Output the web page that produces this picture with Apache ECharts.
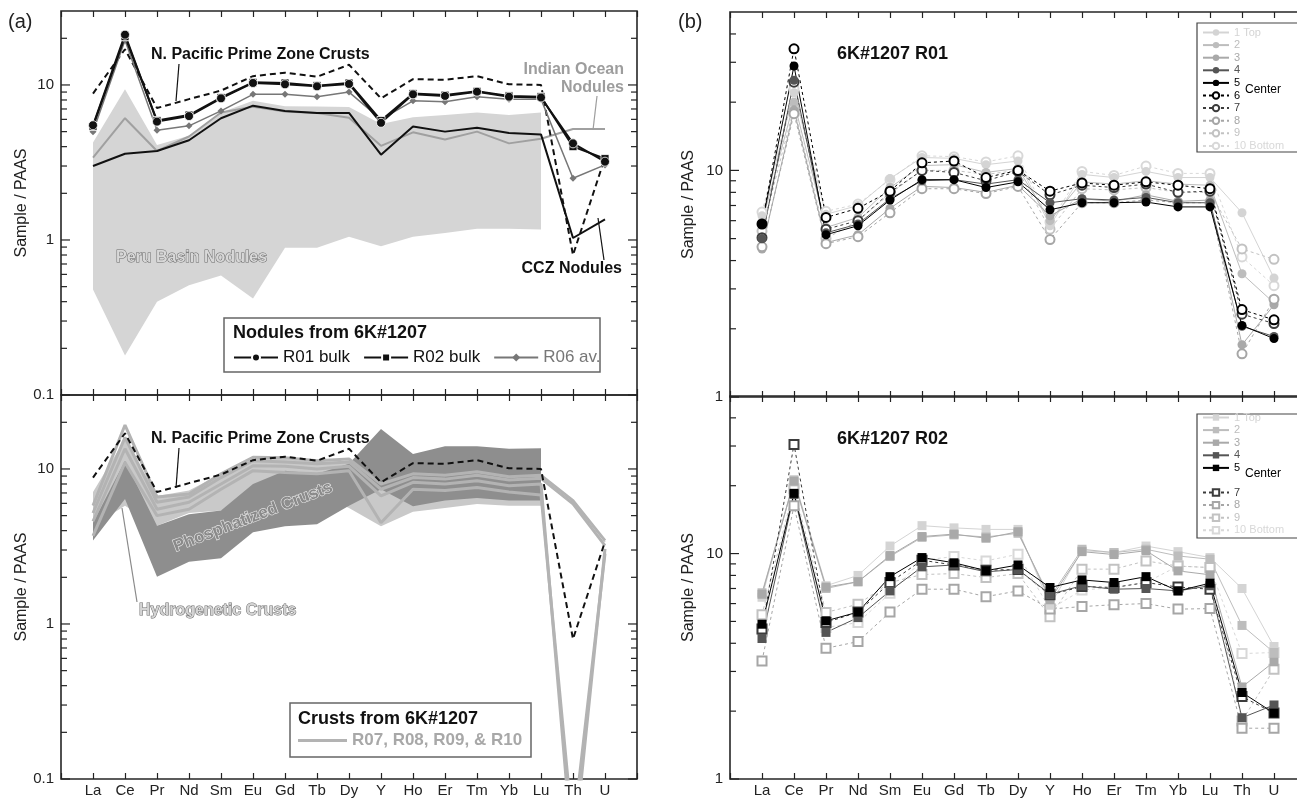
<!DOCTYPE html>
<html><head><meta charset="utf-8">
<script src="https://cdn.jsdelivr.net/npm/echarts@6/dist/echarts.min.js"></script>
<style>html,body{margin:0;padding:0;background:#fff}#c{width:1297px;height:798px}</style>
</head><body><div id="c"></div>
<script>
// ---------- data ----------
const elements = ['La','Ce','Pr','Nd','Sm','Eu','Gd','Tb','Dy','Y','Ho','Er','Tm','Yb','Lu','Th','U'];
const yTicksLeft = [0.1,0.2,0.3,0.4,0.5,0.6,0.7,0.8,0.9,1,2,3,4,5,6,7,8,9,10,20];
const yTicksRight = [1,2,3,4,5,6,7,8,9,10,20,30,40];
const yLabelsShown = [0.1, 1, 10];

// (a) top: nodules
const npacCrusts   = [8.8, 17.0, 7.1, 8.1, 9.2, 11.4, 12.0, 11.3, 13.5, 8.2, 10.9, 10.8, 11.4, 10.1, 10.0, 0.8, 3.4];
const r01Bulk      = [5.5, 21.1, 5.8, 6.3, 8.2, 10.3, 10.1, 9.8, 10.15, 5.7, 8.7, 8.5, 9.05, 8.4, 8.3, 4.2, 3.2];
const r02Bulk      = [5.4, 20.5, 5.9, 6.4, 8.3, 10.4, 10.3, 9.9, 10.3, 5.9, 8.8, 8.6, 9.1, 8.5, 8.4, 4.0, 3.35];
const r06Av        = [5.0, 19.4, 5.1, 5.45, 6.8, 8.7, 8.7, 8.4, 9.0, 6.0, 7.9, 7.8, 8.4, 8.1, 8.1, 2.5, 3.05];
const cczNodules   = [3.0, 3.6, 3.75, 4.4, 6.1, 7.35, 6.8, 6.6, 6.6, 3.55, 5.4, 5.0, 5.3, 4.9, 4.8, 1.03, 1.36];
const indianNodules= [3.4, 6.1, 3.75, 4.65, 6.65, 7.24, 6.75, 6.6, 6.15, 4.05, 4.95, 4.45, 5.0, 4.2, 4.5, 5.2, 5.2];
const peruUpper    = [4.25, 9.4, 4.1, 4.7, 6.65, 7.9, 7.3, 7.25, 7.2, 5.6, 6.2, 6.4, 6.65, 6.4, 6.65];
const peruLower    = [0.48, 0.18, 0.40, 0.51, 0.59, 0.42, 0.89, 0.89, 1.05, 0.91, 1.05, 1.11, 1.18, 1.18, 1.17];

// (a) bottom: crusts
const r07 = [5.8, 19.2, 6.6, 6.9, 9.3, 11.9, 11.8, 11.3, 11.6, 8.0, 9.3, 9.1, 9.6, 8.9, 9.1, 6.25, 3.45];
const r08 = [5.2, 16.0, 6.1, 6.6, 8.8, 11.3, 11.1, 10.8, 11.1, 7.4, 8.8, 8.6, 9.1, 8.5, 8.7, 5.95, 3.2];
const r09 = [4.6, 13.5, 5.5, 6.1, 8.0, 10.5, 10.4, 10.0, 10.4, 6.7, 8.2, 8.0, 8.4, 7.8, 8.0, 0.03, 3.05];
const r10 = [3.7, 11.0, 5.0, 5.5, 7.4, 9.75, 9.5, 9.3, 9.75, 4.5, 7.4, 7.25, 7.6, 7.1, 6.8, 0.045, 2.85];
const phosUpper  = [4.5, 11.3, 4.3, 5.1, 5.4, 8.0, 9.75, 9.3, 10.8, 18.1, 12.5, 14.0, 14.0, 13.5, 13.6];
const phosLower  = [3.45, 6.4, 2.02, 2.52, 2.65, 3.9, 4.27, 4.4, 5.8, 7.4, 5.75, 6.25, 6.5, 6.25, 6.25];
const hydroUpper = [7.1, 15.6, 6.7, 7.25, 9.3, 11.6, 11.6, 11.1, 11.3, 7.8, 9.5, 9.5, 9.75, 9.3, 9.3];
const hydroLower = [4.3, 5.8, 4.3, 5.2, 5.4, 6.4, 7.0, 7.0, 5.6, 4.27, 5.3, 5.6, 5.95, 5.8, 5.8];

// (b) top: 6K#1207 R01 profile
const r01Names = ['1 Top','2','3','4','5 Center','6','7','8','9','10 Bottom'];
const r01s1  = [6.3, 22.0, 6.4, 7.0, 9.2, 11.4, 11.3, 10.6, 11.0, 5.7, 9.6, 9.3, 9.9, 9.3, 9.3, 6.5, 3.35];
const r01s2  = [5.9, 20.0, 5.6, 6.2, 8.4, 10.5, 10.6, 9.8, 10.2, 6.0, 8.9, 8.7, 9.0, 8.7, 8.6, 3.5, 2.6];
const r01s3  = [4.5, 18.5, 4.8, 5.2, 6.8, 8.5, 8.4, 8.0, 8.6, 6.3, 7.5, 7.3, 7.8, 7.3, 7.4, 1.7, 2.55];
const r01s4  = [5.0, 25.0, 5.3, 5.8, 7.5, 9.0, 9.1, 8.7, 9.1, 7.2, 7.5, 7.4, 7.6, 7.2, 7.2, 2.05, 1.85];
const r01s5  = [5.8, 28.9, 5.2, 5.7, 7.4, 9.1, 9.1, 8.4, 8.9, 6.7, 7.2, 7.2, 7.25, 6.9, 6.9, 2.07, 1.81];
const r01s6  = [5.8, 34.4, 6.2, 6.8, 8.1, 10.8, 11.0, 9.3, 10.0, 8.1, 8.8, 8.6, 8.9, 8.6, 8.3, 2.43, 2.19];
const r01s7  = [5.05, 24.5, 5.5, 6.0, 8.0, 10.0, 9.8, 9.0, 9.9, 7.8, 8.6, 8.4, 8.7, 8.0, 8.1, 2.32, 2.11];
const r01s8  = [4.6, 17.8, 4.75, 5.1, 6.5, 8.3, 8.3, 7.9, 8.5, 4.95, 7.2, 7.2, 7.4, 7.2, 7.2, 1.55, 2.7];
const r01s9  = [5.4, 18.9, 5.0, 6.0, 7.9, 10.0, 10.0, 9.6, 10.0, 5.5, 8.3, 8.2, 8.4, 8.0, 8.0, 4.5, 4.05];
const r01s10 = [6.55, 22.9, 6.6, 7.1, 9.1, 11.6, 11.5, 10.9, 11.6, 5.9, 9.9, 9.5, 10.45, 9.7, 9.7, 4.15, 3.1];

// (b) bottom: 6K#1207 R02 profile
const r02Names = ['1 Top','2','3','4','5 Center','7','8','9','10 Bottom'];
const r02s1  = [6.4, 21.3, 7.2, 8.0, 10.8, 13.3, 13.0, 12.8, 12.8, 5.9, 10.3, 10.1, 10.8, 10.2, 9.6, 7.0, 3.87];
const r02s2  = [6.7, 20.8, 7.0, 7.5, 9.7, 11.8, 12.1, 11.85, 12.3, 6.4, 10.45, 10.1, 10.45, 9.76, 9.44, 4.8, 3.64];
const r02s3  = [6.6, 21.0, 7.1, 7.5, 9.8, 11.9, 12.2, 11.7, 12.5, 6.24, 10.2, 9.9, 10.3, 8.38, 8.05, 2.56, 3.31];
const r02s4  = [4.2, 18.3, 4.47, 5.2, 6.83, 8.73, 8.9, 8.3, 8.5, 6.6, 7.2, 6.95, 7.0, 6.83, 7.2, 1.87, 2.13];
const r02s5  = [4.86, 18.5, 5.03, 5.5, 7.9, 9.6, 9.1, 8.4, 8.9, 7.07, 7.64, 7.44, 7.9, 6.83, 7.39, 2.42, 1.96];
const r02s7  = [4.63, 30.5, 4.94, 5.5, 7.44, 9.34, 8.9, 8.44, 8.5, 6.56, 7.14, 7.07, 7.44, 7.1, 6.95, 2.32, 1.96];
const r02s8  = [3.34, 16.3, 3.8, 4.07, 5.5, 6.95, 6.95, 6.44, 6.83, 5.67, 5.82, 5.93, 6.0, 5.67, 5.7, 1.68, 1.68];
const r02s9  = [5.35, 19.4, 5.48, 5.96, 7.44, 8.07, 8.15, 7.83, 8.15, 5.24, 8.53, 8.53, 9.28, 8.8, 8.67, 1.81, 3.07];
const r02s10 = [4.63, 19.0, 4.7, 4.94, 6.67, 9.34, 9.7, 9.28, 9.93, 5.67, 6.89, 7.07, 7.44, 8.8, 8.67, 3.6, 3.64];

// ---------- styles ----------
const FONT = "'Liberation Sans', Arial, Helvetica, sans-serif";
const profColors = ['#d4d4d4','#bdbdbd','#a9a9a9','#555555','#000000','#000000','#3c3c3c','#a6a6a6','#c2c2c2','#d8d8d8'];
const profDashed = [false,false,false,false,false,true,true,true,true,true];
const r02Colors = ['#d4d4d4','#bdbdbd','#a9a9a9','#555555','#000000','#3c3c3c','#a6a6a6','#c2c2c2','#d8d8d8'];
const r02Dashed = [false,false,false,false,false,true,true,true,true];

const chart = echarts.init(document.getElementById('c'), null, {width:1297, height:798});

const gridDefs = [
  {left:61, top:11, width:576, height:384},
  {left:61, top:395, width:576, height:384},
  {left:730, top:12, width:576, height:385},
  {left:730, top:396, width:576, height:383}
];
const grid = gridDefs.map(g => Object.assign({show:true, borderColor:'#262626', borderWidth:1.6,
  backgroundColor:'transparent', containLabel:false, outerBoundsMode:'none'}, g));

const xAxis = [];
gridDefs.forEach((g, gi) => {
  const showLab = (gi === 1 || gi === 3);
  ['bottom','top'].forEach(pos => {
    xAxis.push({type:'value', gridIndex:gi, position:pos, min:0, max:18, interval:1,
      axisLine:{show:false}, splitLine:{show:false},
      axisTick:{show:true, inside:true, length:6, lineStyle:{color:'#222', width:1.2}},
      axisLabel:{show: showLab && pos === 'bottom', color:'#222', fontSize:15, fontFamily:FONT, margin:4,
        formatter: v => elements[v - 1] || ''}});
  });
});

const yRanges = [[0.1,30],[0.1,30],[1,50],[1,50]];
const yAxis = yRanges.map((r, gi) => ({type:'log', logBase:10, gridIndex:gi, min:r[0], max:r[1],
  axisLine:{show:false}, splitLine:{show:false}, axisTick:{show:false},
  axisLabel:{color:'#222', fontSize:15, fontFamily:FONT, margin:7,
    formatter: v => yLabelsShown.some(t => Math.abs(t - v) < 1e-9) ? String(v) : ''},
  name:'Sample / PAAS', nameLocation:'middle', nameGap: gi < 2 ? 30 : 33,
  nameTextStyle:{fontSize:16, color:'#222', fontFamily:FONT}}));

const pts = vals => vals.map((v, i) => [i + 1, v]);
const line = (gi, name, vals, o) => Object.assign({type:'line', name, xAxisIndex:2*gi, yAxisIndex:gi,
  data: pts(vals), symbol:'none', animation:false, z:3, clip:true}, o);

function band(gi, lower, upper, color, z) {
  return {type:'custom', xAxisIndex:2*gi, yAxisIndex:gi, silent:true, z:z, animation:false,
    data: lower.map((l, i) => [i + 1, l, upper[i]]),
    renderItem(params, api) {
      if (params.dataIndex !== 0) return null;
      const top = upper.map((u, i) => api.coord([i + 1, u]));
      const bot = lower.map((l, i) => api.coord([i + 1, l])).reverse();
      return {type:'polygon', shape:{points: top.concat(bot)}, style:{fill: color}};
    }};
}

function ticks(gi, vals) {
  return {type:'custom', xAxisIndex:2*gi, yAxisIndex:gi, silent:true, z:10, animation:false, clip:false,
    data: vals.map(v => [0, v]),
    renderItem(params, api) {
      const v = api.value(1);
      const pL = api.coord([0, v]), pR = api.coord([18, v]);
      const lg = Math.log10(v);
      const len = Math.abs(lg - Math.round(lg)) < 1e-6 ? 9 : 6;
      const st = {stroke:'#222', lineWidth:1.2};
      return {type:'group', children:[
        {type:'line', shape:{x1:pL[0], y1:pL[1], x2:pL[0] + len, y2:pL[1]}, style:st},
        {type:'line', shape:{x1:pR[0] - len, y1:pR[1], x2:pR[0], y2:pR[1]}, style:st}]};
    }};
}

const series = [];
// grid 0
series.push(band(0, peruLower, peruUpper, '#d5d5d5', 1));
series.push(line(0, 'Indian Ocean Nodules', indianNodules, {lineStyle:{color:'#a0a0a0', width:2}}));
series.push(line(0, 'CCZ Nodules', cczNodules, {lineStyle:{color:'#111', width:2}}));
series.push(line(0, 'N. Pacific Prime Zone Crusts', npacCrusts, {lineStyle:{color:'#111', width:2, type:[6,4]}}));
series.push(line(0, 'R06 av.', r06Av, {symbol:'diamond', symbolSize:7, lineStyle:{color:'#777', width:1.5},
  itemStyle:{color:'#777'}}));
series.push(line(0, 'R02 bulk', r02Bulk, {symbol:'rect', symbolSize:8, lineStyle:{color:'#111', width:2},
  itemStyle:{color:'#111', borderColor:'#fff', borderWidth:0.8}}));
series.push(line(0, 'R01 bulk', r01Bulk, {symbol:'circle', symbolSize:9, lineStyle:{color:'#111', width:2},
  itemStyle:{color:'#111', borderColor:'#fff', borderWidth:0.8}}));
// grid 1
series.push(band(1, hydroLower, hydroUpper, '#c9c9c9', 1));
series.push(band(1, phosLower, phosUpper, '#8e8e8e', 2));
[r10, r09, r08, r07].forEach(d => series.push(line(1, 'R07, R08, R09, & R10', d,
  {lineStyle:{color:'#b3b3b3', width:3}, itemStyle:{color:'#b3b3b3'}})));
series.push(line(1, 'N. Pacific (crusts)', npacCrusts, {lineStyle:{color:'#111', width:2, type:[6,4]}}));
// grid 2
const r01Data = [r01s1, r01s2, r01s3, r01s4, r01s5, r01s6, r01s7, r01s8, r01s9, r01s10];
const r01Order = [9, 8, 0, 1, 2, 7, 6, 3, 5, 4];
r01Order.forEach(k => {
  const c = profColors[k], d = profDashed[k];
  series.push(line(2, 'R01-' + r01Names[k], r01Data[k], {
    symbol: d ? 'emptyCircle' : 'circle', symbolSize:9,
    lineStyle:{color:c, width:1, type: d ? [3,3] : 'solid'},
    itemStyle: d ? {color:c, borderColor:c, borderWidth:1.3} : {color:c, borderWidth:0}}));
});
// grid 3
const r02Data = [r02s1, r02s2, r02s3, r02s4, r02s5, r02s7, r02s8, r02s9, r02s10];
const r02Order = [8, 7, 6, 0, 1, 2, 5, 3, 4];
r02Order.forEach(k => {
  const c = r02Colors[k], d = r02Dashed[k];
  series.push(line(3, 'R02-' + r02Names[k], r02Data[k], {
    symbol: d ? 'emptyRect' : 'rect', symbolSize:9,
    lineStyle:{color:c, width:1, type: d ? [3,3] : 'solid'},
    itemStyle: d ? {color:c, borderColor:c, borderWidth:1.3} : {color:c, borderWidth:0}}));
});
series.push(ticks(0, yTicksLeft), ticks(1, yTicksLeft), ticks(2, yTicksRight), ticks(3, yTicksRight));

const stripName = n => n.replace(/^R0\d-/, '').replace(' Center', '');
const profLegend = (names, prefix, colors, top) => ({
  left:1202, top:top, orient:'vertical', itemWidth:26, itemHeight:8, itemGap:1.6, padding:0,
  selectedMode:false, z:20, formatter: stripName,
  textStyle:{fontSize:11, fontFamily:FONT},
  data: names.map((n, i) => ({name: prefix + n, textStyle:{color: colors[i] === '#000000' ? '#000' : colors[i]}}))
});

const legend = [
  {left:233, top:349, orient:'horizontal', itemWidth:44, itemHeight:10, itemGap:13, padding:0, selectedMode:false,
   textStyle:{fontSize:17, color:'#111', fontFamily:FONT},
   data:['R01 bulk','R02 bulk',{name:'R06 av.', textStyle:{color:'#777'}}]},
  {left:298, top:732, orient:'horizontal', itemWidth:49, itemHeight:3, padding:0, selectedMode:false,
   textStyle:{fontSize:17, color:'#a8a8a8', fontWeight:'bold', fontFamily:FONT},
   data:[{name:'R07, R08, R09, & R10', icon:'rect'}]},
  profLegend(r01Names, 'R01-', profColors, 27),
  profLegend(r02Names.slice(0,5), 'R02-', r02Colors.slice(0,5), 412),
  profLegend(r02Names.slice(5), 'R02-', r02Colors.slice(5), 487)
];

const txt = (x, y, text, o) => ({type:'text', x, y, z:50, silent:true,
  style:Object.assign({text, font:"bold 16px " + FONT, fill:'#111', verticalAlign:'middle', align:'left'}, o || {})});
const seg = (x1, y1, x2, y2, c) => ({type:'line', z:50, silent:true, shape:{x1, y1, x2, y2},
  style:{stroke: c || '#111', lineWidth:1.2}});

const graphic = [
  txt(8, 22, '(a)', {font:"20px " + FONT, fill:'#222'}),
  txt(678, 22, '(b)', {font:"20px " + FONT, fill:'#222'}),
  // top left annotations
  txt(151, 55, 'N. Pacific Prime Zone Crusts'),
  seg(179, 64, 176, 101),
  txt(624, 70, 'Indian Ocean', {align:'right', fill:'#9d9d9d'}),
  txt(624, 88, 'Nodules', {align:'right', fill:'#9d9d9d'}),
  seg(597, 96, 593, 130, '#9d9d9d'),
  txt(622, 269, 'CCZ Nodules', {align:'right'}),
  seg(598, 218, 604, 260),
  txt(116, 258, 'Peru Basin Nodules', {fill:'#d8d8d8', stroke:'#6a6a6a', lineWidth:1}),
  {type:'rect', z:40, silent:true, shape:{x:224, y:318, width:376, height:54}, style:{fill:'none', stroke:'#666', lineWidth:1.5}},
  txt(233, 333, 'Nodules from 6K#1207', {font:"bold 18px " + FONT}),
  // bottom left annotations
  txt(151, 439, 'N. Pacific Prime Zone Crusts'),
  seg(179, 448, 176, 488),
  {type:'text', x:253, y:517, z:50, silent:true, rotation: 21 * Math.PI / 180,
   style:{text:'Phosphatized Crusts', font:"bold 17px " + FONT, fill:'#8a8a8a', stroke:'#e8e8e8', lineWidth:1.2,
     align:'center', verticalAlign:'middle'}},
  txt(139, 611, 'Hydrogenetic Crusts', {fill:'#d4d4d4', stroke:'#6a6a6a', lineWidth:1}),
  seg(137, 602, 122, 508, '#8a8a8a'),
  {type:'rect', z:40, silent:true, shape:{x:290, y:703, width:241, height:54}, style:{fill:'none', stroke:'#666', lineWidth:1.5}},
  txt(298, 719, 'Crusts from 6K#1207', {font:"bold 18px " + FONT}),
  // right panels
  txt(837, 54, '6K#1207 R01', {font:"bold 18px " + FONT}),
  txt(837, 439, '6K#1207 R02', {font:"bold 18px " + FONT}),
  {type:'rect', z:15, silent:true, shape:{x:1197, y:23, width:110, height:129}, style:{fill:'#fff', stroke:'#444', lineWidth:1.2}},
  {type:'rect', z:15, silent:true, shape:{x:1197, y:414, width:110, height:124}, style:{fill:'#fff', stroke:'#444', lineWidth:1.2}},
  txt(1245, 90, 'Center', {font:"12px " + FONT, fill:'#000'}),
  txt(1245, 474, 'Center', {font:"12px " + FONT, fill:'#000'})
];

chart.setOption({
  backgroundColor:'#fff', animation:false,
  grid, xAxis, yAxis, series, legend, graphic
});
</script></body></html>
